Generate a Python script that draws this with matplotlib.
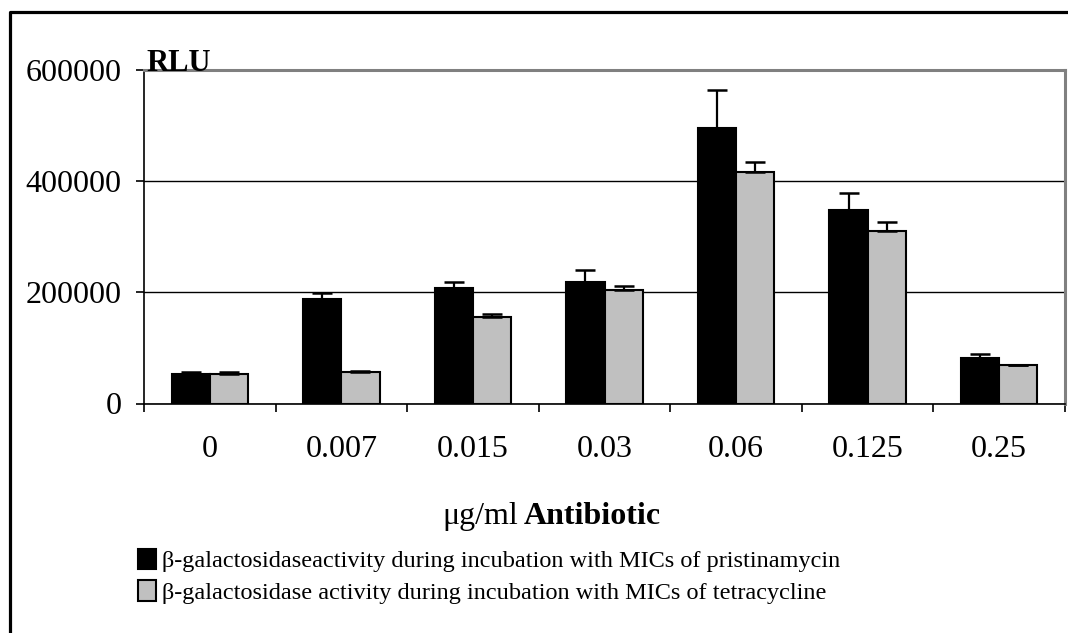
import matplotlib
matplotlib.use("Agg")
import matplotlib.pyplot as plt
from matplotlib.lines import Line2D
import numpy as np

categories = ["0", "0.007", "0.015", "0.03", "0.06", "0.125", "0.25"]
pristinamycin = [53000, 188000, 208000, 219000, 496000, 348000, 81000]
pristinamycin_err = [4000, 10000, 11000, 22000, 68000, 31000, 8000]
tetracycline = [53000, 57000, 155000, 204000, 416000, 310000, 69000]
tetracycline_err = [4000, 1000, 6000, 8000, 18000, 17000, 1000]
y_ticks = [0, 200000, 400000, 600000]
legend_labels = [
    "\u03b2-galactosidaseactivity during incubation with MICs of pristinamycin",
    "\u03b2-galactosidase activity during incubation with MICs of tetracycline",
]

plt.rcParams['font.family'] = ['Liberation Serif', 'DejaVu Serif']

W, H = 1068, 633
fig = plt.figure(figsize=(W / 100, H / 100), dpi=100)
ax = fig.add_axes([144 / W, (H - 403.5) / H, (1065 - 144) / W, (403.5 - 70) / H])

x = np.arange(len(categories))
bw = 0.29
b1 = ax.bar(x - bw / 2, pristinamycin, bw, color='black', edgecolor='black', linewidth=1.5, zorder=3)
b2 = ax.bar(x + bw / 2, tetracycline, bw, color='#c0c0c0', edgecolor='black', linewidth=1.5, zorder=3)
ax.errorbar(x - bw / 2, pristinamycin, yerr=[np.zeros(len(x)), pristinamycin_err], fmt='none',
            ecolor='black', elinewidth=1.6, capsize=7.5, capthick=1.8, zorder=4)
ax.errorbar(x + bw / 2, tetracycline, yerr=[np.zeros(len(x)), tetracycline_err], fmt='none',
            ecolor='black', elinewidth=1.6, capsize=7.5, capthick=1.8, zorder=4)

ax.set_xlim(-0.5, len(categories) - 0.5)
ax.set_ylim(0, 600000)
ax.set_yticks(y_ticks)
ax.set_yticklabels([str(v) for v in y_ticks], fontsize=23)
ax.yaxis.grid(True, color='black', linewidth=1.0, zorder=0)
ax.set_axisbelow(True)

ax.set_xticks(np.arange(len(categories) + 1) - 0.5)
ax.set_xticklabels([])
ax.set_xticks(x, minor=True)
ax.set_xticklabels(categories, minor=True, fontsize=23)
ax.tick_params(axis='x', which='minor', length=0, pad=23)
ax.tick_params(axis='x', which='major', length=6, width=1.2, direction='out')
ax.tick_params(axis='y', length=6, width=1.2, direction='out', pad=10)

ax.spines['left'].set_color('black')
ax.spines['left'].set_linewidth(1.2)
ax.spines['bottom'].set_color('black')
ax.spines['bottom'].set_linewidth(1.2)
ax.spines['top'].set_color('#808080')
ax.spines['top'].set_linewidth(2.2)
ax.spines['right'].set_color('#808080')
ax.spines['right'].set_linewidth(2.2)

fig.text(146 / W, (H - 71) / H, "RLU", fontsize=22, fontweight='bold', ha='left', va='baseline')

fig.text(518 / W, (H - 524) / H, "\u03bcg/ml", fontsize=23, ha='right', va='baseline')
fig.text(524 / W, (H - 524) / H, "Antibiotic", fontsize=23, fontweight='bold', ha='left', va='baseline')

leg = fig.legend([b1, b2], legend_labels, loc='upper left',
                 bbox_to_anchor=(138 / W, (H - 549) / H), frameon=False,
                 fontsize=17.5, handlelength=0.72, handleheight=0.9,
                 handletextpad=0.28, labelspacing=0.33, borderpad=0, borderaxespad=0)

fig.add_artist(Line2D([10 / W, 10 / W, 1.01], [-0.01, (H - 12) / H, (H - 12) / H],
                      transform=fig.transFigure, color='black', linewidth=2.3))

fig.savefig("out.png", dpi=100)
